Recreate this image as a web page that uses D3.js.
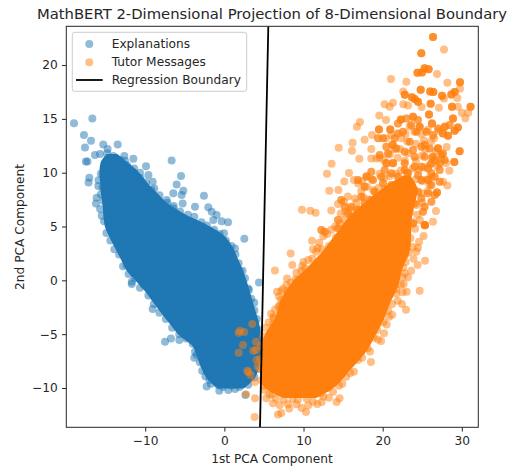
<!DOCTYPE html>
<html>
<head>
<meta charset="utf-8">
<script src="https://cdn.jsdelivr.net/npm/d3@7"></script>
<style>
    html, body { margin: 0; padding: 0; background: #fff; }
    svg { display: block; }
    text { font-family: "DejaVu Sans", sans-serif; fill: #262626; }
</style>
</head>
<body>
<svg id="chart" width="516" height="470"></svg>
<script>
const chartTitle = 'MathBERT 2-Dimensional Projection of 8-Dimensional Boundary';
const xTicks = [-10, 0, 10, 20, 30];
const yTicks = [-10, -5, 0, 5, 10, 15, 20];
const xDomain = [-19.97, 32.08];
const yDomain = [-13.65, 23.6];

// the decision boundary, ends read at the top and bottom of the axes
const boundaryX = [5.55, 4.5];
const boundaryY = [23.6, -13.65];

// Thousands of points overplot to a solid colour in the middle of each cloud, so
// single points can't be read there. These bands are the outline of that solid part.
const explanationsBandY = [11.6, 11, 10, 9, 8, 7, 6, 5, 4, 3, 2, 1, 0, -1, -2, -3, -4, -5, -6, -7, -8, -9, -9.9];
const explanationsBandLeft = [-14.8, -15.4, -15.6, -15.5, -15.4, -15.2, -15.1, -14.9, -14.3, -13.6, -12.9, -12.2, -11, -9.8, -8.8, -7.8, -6.7, -5.6, -3.9, -3.3, -2.8, -2.1, -0.8];
const explanationsBandRight = [-13.6, -12.6, -11, -9.9, -8.6, -7.2, -5, -2.2, -0.1, 0.9, 1.5, 2.1, 2.6, 3, 3.4, 3.8, 4.2, 4.4, 4.5, 4.4, 4.2, 3.7, 2.4];

const tutorBandY = [9.6, 8.5, 7.5, 5.9, 4.2, 2.66, 1.1, -0.44, -2, -3.53, -5.08, -6.6, -8.2, -9.7, -10.8];
const tutorBandLeft = [22.6, 20.2, 18.5, 16, 14.2, 12.6, 10.6, 8.5, 7.2, 6.6, 5.3, 4.9, 4.7, 5, 7.5];
const tutorBandRight = [23.4, 24.2, 24, 23.5, 23.4, 23.2, 22.3, 21.8, 20.8, 20, 18.9, 17.7, 15.8, 14, 11.5];

// visible points around the solid part
const explanations = [
    [-19.0,14.6],[-16.68,15.04],[-17.74,13.5],[-16.85,12.97],[-17.61,12.35],[-15.3,12.63],[-13.48,12.63],[-14.75,12.2],
    [-17.5,11.05],[-17.3,11.05],[-16.35,11.64],[-15.7,11.73],[-14.8,11.8],[-14.03,11.55],[-12.64,11.55],[-11.5,11.3],
    [-12.56,11.1],[-9.9,10.6],[-6.66,11.14],[-5.48,9.69],[-6.03,8.9],[-6.45,8.08],[-5.19,8.33],[-5.4,7.92],[-2.58,7.86],
    [-17.06,9.53],[-17.15,9.1],[-15.93,8.76],[-16.14,7.68],[-16.22,7.15],[-15.7,6.62],[-10.66,10],[-9.6,9.78],[-9.06,9.16],
    [-8.85,8.54],[-7.29,7.46],[-6.45,6.69],[-5.27,7.15],[-3.71,6.84],[-2.03,6.78],[-1.6,6.38],[-0.98,6.07],[-1.4,5.6],
    [-0.34,5.5],[0.46,5.39],[-0.05,4.37],[2.52,3.87],
    [-11.7,-0.13],[-11.7,-0.34],[-10.66,-0.68],[-9.06,-2.66],[-7.5,-5.7],[-6.75,-5.39],[-5.69,-5.54],[-3.8,-7.18],[-3.71,-6.63],
    [-2.24,-9.85],[-0.64,-10.25],[0.5,-10.18],[1.34,-10.1],[-1.9,-9.26],[-0.77,-9.72],[2.65,-10.65],[3.78,-2.08],[3.0,-0.75],
    [4.37,-0.19],[2.0,0.8],[1.34,2.97],[-12.35,1.42],
    [-15.6,9.9],[-15.9,9.3],[-15.4,8.6],[-15.6,8.0],[-15.3,7.4],[-15.5,6.0],[-15.2,5.5],[-14.9,4.4],[-14.4,3.7],[-13.9,2.9],
    [-13.3,2.4],[-12.8,1.3],[-12.1,0.6],[-11.3,0.2],[-10.2,-0.4],[-9.6,-1.4],[-8.9,-2.2],[-8.2,-3.0],[-7.4,-3.6],[-6.6,-4.4],
    [-5.7,-5.0],[-4.8,-5.4],[-4.0,-5.9],[-3.5,-6.9],[-3.1,-7.6],[-2.8,-8.4],[-2.4,-8.9],[-1.7,-9.6],
    [-13.2,11.2],[-12.3,10.7],[-11.4,10.4],[-10.6,9.5],[-9.9,9.1],[-9.2,8.4],[-8.2,7.9],[-7.2,7.2],[-6.4,6.9],[-5.6,6.4],
    [-4.6,6.1],[-3.8,5.9],[-2.9,5.4],[-2.2,5.1],[-1.3,4.7],[-0.6,4.3],[0.2,3.7],[0.9,3.2],[1.4,2.4],[1.8,1.6],[2.3,0.9],
    [2.6,0.2],[3.1,-0.9],[3.4,-1.7],[3.8,-2.8],[4.1,-3.6],[4.4,-4.6],[4.5,-5.5],[4.5,-6.9],[4.3,-8.2],[3.8,-9.0],[3.0,-9.7],
    [1.9,-9.9],[0.9,-9.8],[-0.2,-9.9]
];

const tutorSingle = [
    [27.75,21.45],[26.86,19.16],[21.05,18.7],[22.99,18.45],[28.17,18.35],[29.77,17.83],[22.6,17.55],[27.74,16.9],[29.43,16.93],
    [20.25,16.37],[21.3,16.5],[20.88,16.13],[22.6,16.37],[23.2,16.25],[24.92,16.1],[27.1,16.03],[29.5,16.13],[30.0,15.57],
    [30.8,15.57],[30.44,15.07],[19.57,15.32],[20.42,14.89],[17.13,14.7],[16.75,14.27],[18.65,13.5],[17.72,13.06],[16.2,12.78],
    [14.44,12.32],[16.12,12.04],[18.56,12.2],[21.2,12.63],[22.36,13.19],[28.08,12.38],[17.05,11.3],[18.56,11.33],[19.2,11.33],
    [13.55,10.83],[12.96,9.9],[15.74,9.97],[28.42,10.18],[15.15,9.19],[16.37,9.32],[13.26,8.33],[14.4,8.39],[27.62,9.16],
    [28.17,8.82],[9.8,6.56],[10.86,6.47],[11.53,6.28],[13.51,6.5],[14.35,7.09],[26.73,6.44],[26.35,5.45],
    [20.4,13.2],[21.1,13.5],[22.9,13.6],[23.4,14.3],[24.0,13.8],[24.9,13.6],[25.7,14.0],[26.5,13.2],[27.1,13.9],[27.9,14.3],
    [26.1,12.9],[25.2,13.0],[24.2,12.7],[23.1,12.9],[22.2,12.2],[21.5,12.2],[20.9,11.7],[25.4,12.2],[26.7,12.0],[27.0,12.3],
    [27.4,11.3],[26.2,11.4],[25.0,11.6],[24.2,11.1],[23.2,11.8],[22.8,11.1],[21.9,11.4],[21.3,10.9],[20.5,10.9],[20.1,11.2],
    [19.6,11.4],[28.0,10.9],[26.9,10.6],[25.9,10.7],[25.3,10.5],[24.6,10.3],[23.8,10.4],[23.1,10.0],[22.3,10.2],[21.7,9.9],
    [20.9,9.7],[20.2,9.5],[19.6,9.9],[18.6,9.4],[18.0,9.7],[17.4,9.2],[16.9,9.0],[26.2,9.6],[25.6,9.4],[25.0,9.2],[24.2,9.4],
    [23.4,9.0],[22.6,8.9],[21.8,8.7],[21.0,8.7],[20.3,8.5],[19.5,8.6],[18.8,8.4],[18.0,8.7],[17.3,8.3],[16.5,7.6],[25.7,8.3],
    [25.9,8.9],[24.9,8.1],[24.0,8.4],[23.0,7.9],[22.2,7.7],[21.5,8.1],[20.8,7.6],[20.0,7.7],[19.2,7.8],[18.3,7.5],[17.6,7.7],
    [16.7,7.2],[15.6,7.8],[15.1,7.3],[25.0,7.2],[24.3,7.0],[23.2,7.3],[22.5,6.9],[21.4,7.0],[20.6,6.8],[19.5,6.9],[18.7,6.8],
    [17.8,6.8],[16.9,6.6],[16.0,6.6],[15.3,6.4],[14.7,6.2],[24.4,6.1],[23.5,6.3],[22.6,6.0],[21.7,5.8],[23.9,5.4],[24.7,5.6],
    [24.1,4.8],[23.2,5.2],[22.5,4.9],[15.2,5.6],[14.6,5.3],[14.0,5.0],[13.5,4.7],[13.0,4.3],[12.5,4.1],[12.0,3.5],[14.1,4.0],
    [13.2,3.2],[12.3,2.9],[11.8,3.0],[10.6,1.9],[10.0,1.7],[9.7,0.9],[9.1,0.7],[8.4,-0.2],[7.4,-0.8],[6.9,-1.5],[7.2,-1.8],
    [6.4,-2.7],[5.9,-3.1],[5.2,-4.4],[4.9,-5.2],[4.6,-6.1],[4.5,-7.3],[4.5,-8.2],[4.7,-9.3],[5.0,-9.8],[6.0,-10.6],[7.5,-11.1],
    [8.6,-11.0],[10.4,-11.0],[12.2,-10.5],[13.1,-10],[14.2,-9.0],[15.1,-8.1],[16.0,-7.6],[17.0,-6.7],[18.1,-6.3],[18.9,-5.3],
    [19.3,-4.6],[20.1,-3.9],[20.7,-2.8],[21.2,-2.2],[21.7,-0.8],[22.3,-0.4],[22.5,0.3],[22.6,1.2],[22.9,1.7],[23.3,2.6],
    [23.1,3.4],[23.5,3.9],[22.9,4.2],
    [8.37,2.5],[6.39,0.92],[8.58,1.42],[9.85,1.33],[11.6,2.66],[11.07,3.68],[11.11,2.04],[7.91,0.18],[6.65,-1.06],[7.83,-0.44],
    [9.3,0.03],[7.19,-1],[6.86,-2.45],[6.2,-3.38],[5.6,-3.9],[6.14,-4.09],[24.67,-0.96],[23.03,-1.06],[22.65,-0.34],[22.95,-2.73],
    [22.44,-2.2],[25.35,1.82],[24.42,1.42],[24.25,2.66],[24.46,3.03],[24.6,3.59],[25.18,4.11],[22.86,2.41],[22.78,0.65],
    [21.72,-1.21],[20.8,-3.38],[20.17,-4.92],[19.8,-5.64],[18.52,-7.59],[16.88,-7.4],[16.37,-8.5],[15.4,-8.95],[14.48,-9.8],
    [14.56,-10.96],[14.18,-11.3],[11.74,-11.49],[10.31,-12.23],[9.76,-11.86],[7.19,-12.32],[6.77,-12.45],[6.14,-11.42],
    [8.04,-11.5],[12.5,-10.8],[13.72,-10.34],[5.3,-10.96],[5.09,-10.19],[9.3,-11.1],[11.2,-11.27],
    [1.97,-4.68],[1.8,-4.86],[2.52,-4.8],[3.53,-4.06],[2.35,-6.0],[1.8,-6.72],[2.9,-8.4],[3.03,-8.54],[3.32,-8.8],[3.82,-9.44],
    [2.73,-10.59],[3.87,-10.96],[3.82,-12.7],[4,-5.7],[3.66,-6.53],[4,-6.47],[4.08,-7.4],[4.2,-8.0],
    [7,-11.6],[8.2,-11.9],[9.1,-11.5],[10.6,-11.6],[12.3,-11.3],[13.2,-10.9],[6.5,-11],[5.7,-10.6],[14.9,-9.6],[15.9,-8.6],
    [17.4,-7.2],[18.4,-6.6],[19.4,-5.5],[20.5,-4.1],[21.2,-3.2],[21.9,-1.9],[22.5,-1.1],[23.2,0.3],[23.6,0.9],[23.9,2],[23.8,3.1],
    [11.2,2.9],[10.2,1.1],[9,0.1],[8,-1],[7,-2.3],[6.2,-3.5]
];

// clumps in the upper part of the cloud where messages pile on each other
const tutorClumps = [
    [21.3,12.57],[21.72,12.26],[20.46,10.87],[21.3,10.87],[22.78,11.95],[22.78,10.87],[24.04,11.48],[24.88,12.41],[25.93,12.26],
    [26.99,12.26],[26.36,11.48],[24.88,10.56],[25.72,10.4],[26.57,11.17],[27.41,11.64],[21.93,9.63],[23.2,9.94],[24.46,9.78],
    [26.15,8.85],[22.14,8.7],[23.62,8.85],[20.88,8.39],[21.72,8.08],[22.78,8.08],[24.46,8.23],[18.56,10.09],[17.72,8.7],[18.98,8.23],
    [17.3,7.77],[20.04,7.77],[21.09,7.46],[22.36,7.15],[25.3,6.84],[25.09,6.38],[21.51,6.22],[23.2,5.91],[18.77,6.22],[19.41,6.53],
    [18.14,5.6],[19.83,4.67],[25.3,5.14],[23.83,5.29],[16.88,4.98],[16.04,5.91],[15.2,6.84],[14.77,7.46],[14.35,5.6],[12.25,4.67],
    [12.67,4.52],[14.35,4.83],[16.04,6.84],[16.88,6.53],[17.72,7.15],[18.56,7.46],[15.62,6.22],[22.36,6.22],[24.04,7.15],[26.15,7.31],
    [24.88,7.62],[26.57,7.92],[25.72,8.08],[27.2,10.25],[26.15,9.94],[19.83,9.63],[20.25,10.25],[18.77,9.32],[20.04,9.01],[16.88,9.32],
    [17.93,9.63],[21.09,9.94],[19.62,11.64],[20.67,11.79],[23.41,12.88],[24.25,13.8],[22.57,13.8],[23.62,14.42],[25.51,13.8],[26.36,13.5],
    [26.99,14.11],[27.83,14.27],[28.46,14.42],[24.46,14.89],[22.99,15.04],[21.93,14.58],[21.51,13.19],[20.04,13.19],[19.41,13.19],
    [20.46,12.41],[21.93,13.65],[25.3,12.57],[23.83,12.1],[27.62,11.79],[27.83,11.17],[27.2,10.87],[26.15,10.87],[25.3,11.48],
    [22.78,10.25],[24.04,10.56],[24.88,9.32],[25.72,9.32],[26.57,9.63],[27.2,9.16],[22.99,9.16],[21.09,8.85]
];

// these look fully opaque in the picture, several messages on the same spot
const tutorStacked = [
    [26.36,22.6],[24.88,21.1],[24.4,19.28],[25.3,19.7],[25.8,19.6],[24.96,19.3],[29.77,18.4],[24.8,17.7],[26.0,17.55],[26.4,17.5],
    [29.09,17.5],[28.67,17.27],[22.8,17.24],[27.5,17.15],[23.7,17.0],[24.04,16.84],[24.46,16.6],[26.06,16.4],[28.76,16.13],
    [31.1,16.13],[25.85,15.41],[28.88,15.04],[22.3,14.95],[23.83,15.2],[19.53,14.02],[20.96,14.02],[24.67,14.27],[26.23,14.58],
    [29.5,14.2],[29.09,13.9],[27.62,13.65],[28.25,13.43],[29.05,11.0],[29.72,12.0],[26.86,8.17],[25.35,5.11]
];

const blue = '#1f77b4';
const orange = '#ff7f0e';
const plot = { left: 66.3, right: 478.3, top: 26.3, bottom: 427.3 };

const svg = d3.select('#chart');
const x = d3.scaleLinear().domain(xDomain).range([plot.left, plot.right]);
const y = d3.scaleLinear().domain(yDomain).range([plot.bottom, plot.top]);

svg.append('clipPath').attr('id', 'plot-clip').append('rect')
    .attr('x', plot.left).attr('y', plot.top)
    .attr('width', plot.right - plot.left).attr('height', plot.bottom - plot.top);
const marks = svg.append('g').attr('clip-path', 'url(#plot-clip)');

function drawBand(ys, lefts, rights, color) {
    const area = d3.area()
        .curve(d3.curveCatmullRom)
        .x0((d, i) => x(lefts[i]))
        .x1((d, i) => x(rights[i]))
        .y(d => y(d));
    marks.append('path')
        .attr('d', area(ys))
        .attr('fill', color)
        .attr('stroke', color)
        .attr('stroke-width', 3)
        .attr('stroke-linejoin', 'round');
}

function drawPoints(points, color) {
    marks.append('g').selectAll('circle')
        .data(points)
        .enter()
        .append('circle')
        .attr('cx', d => x(d[0]))
        .attr('cy', d => y(d[1]))
        .attr('r', 4)
        .attr('fill', color)
        .attr('fill-opacity', 0.5);
}

drawBand(explanationsBandY, explanationsBandLeft, explanationsBandRight, blue);
drawPoints(explanations, blue);
drawBand(tutorBandY, tutorBandLeft, tutorBandRight, orange);
drawPoints([...tutorSingle, ...tutorClumps, ...tutorClumps, ...tutorStacked, ...tutorStacked, ...tutorStacked], orange);

marks.append('line')
    .attr('x1', x(boundaryX[0])).attr('y1', y(boundaryY[0]))
    .attr('x2', x(boundaryX[1])).attr('y2', y(boundaryY[1]))
    .attr('stroke', '#000')
    .attr('stroke-width', 1.8);

// axes
const xAxis = svg.append('g')
    .attr('transform', `translate(0,${plot.bottom})`)
    .call(d3.axisBottom(x).tickValues(xTicks).tickSize(4.3).tickPadding(4.3).tickFormat(d3.format('d')));
const yAxis = svg.append('g')
    .attr('transform', `translate(${plot.left},0)`)
    .call(d3.axisLeft(y).tickValues(yTicks).tickSize(4.3).tickPadding(4.3).tickFormat(d3.format('d')));
[xAxis, yAxis].forEach(axis => {
    axis.select('.domain').remove();
    axis.selectAll('line').attr('stroke', '#262626').attr('stroke-width', 1);
    axis.selectAll('text').style('font-family', '"DejaVu Sans", sans-serif').style('font-size', '12.2px').attr('fill', '#262626');
});

svg.append('rect')
    .attr('x', plot.left).attr('y', plot.top)
    .attr('width', plot.right - plot.left).attr('height', plot.bottom - plot.top)
    .attr('fill', 'none')
    .attr('stroke', '#262626')
    .attr('stroke-width', 1);

// labels
svg.append('text')
    .attr('x', 272).attr('y', 19)
    .attr('text-anchor', 'middle')
    .style('font-size', '14.8px')
    .text(chartTitle);
svg.append('text')
    .attr('x', 272).attr('y', 463)
    .attr('text-anchor', 'middle')
    .style('font-size', '12.2px')
    .text('1st PCA Component');
svg.append('text')
    .attr('transform', 'translate(23.5,227) rotate(-90)')
    .attr('text-anchor', 'middle')
    .style('font-size', '12.2px')
    .text('2nd PCA Component');

// legend
const legend = svg.append('g');
legend.append('rect')
    .attr('x', 72.3).attr('y', 32.3)
    .attr('width', 174.4).attr('height', 59)
    .attr('rx', 2.5)
    .attr('fill', '#fff')
    .attr('fill-opacity', 0.8)
    .attr('stroke', '#ccc')
    .attr('stroke-width', 1);
legend.append('circle').attr('cx', 89.3).attr('cy', 44).attr('r', 4).attr('fill', blue).attr('fill-opacity', 0.5);
legend.append('circle').attr('cx', 89.3).attr('cy', 62.3).attr('r', 4).attr('fill', orange).attr('fill-opacity', 0.5);
legend.append('line').attr('x1', 76).attr('x2', 102.7).attr('y1', 80).attr('y2', 80).attr('stroke', '#000').attr('stroke-width', 1.8);
legend.selectAll('.legend-label')
    .data([['Explanations', 47.5], ['Tutor Messages', 65.8], ['Regression Boundary', 84]])
    .enter()
    .append('text')
    .attr('class', 'legend-label')
    .attr('x', 111.7)
    .attr('y', d => d[1])
    .style('font-size', '12.2px')
    .text(d => d[0]);
</script>
</body>
</html>
